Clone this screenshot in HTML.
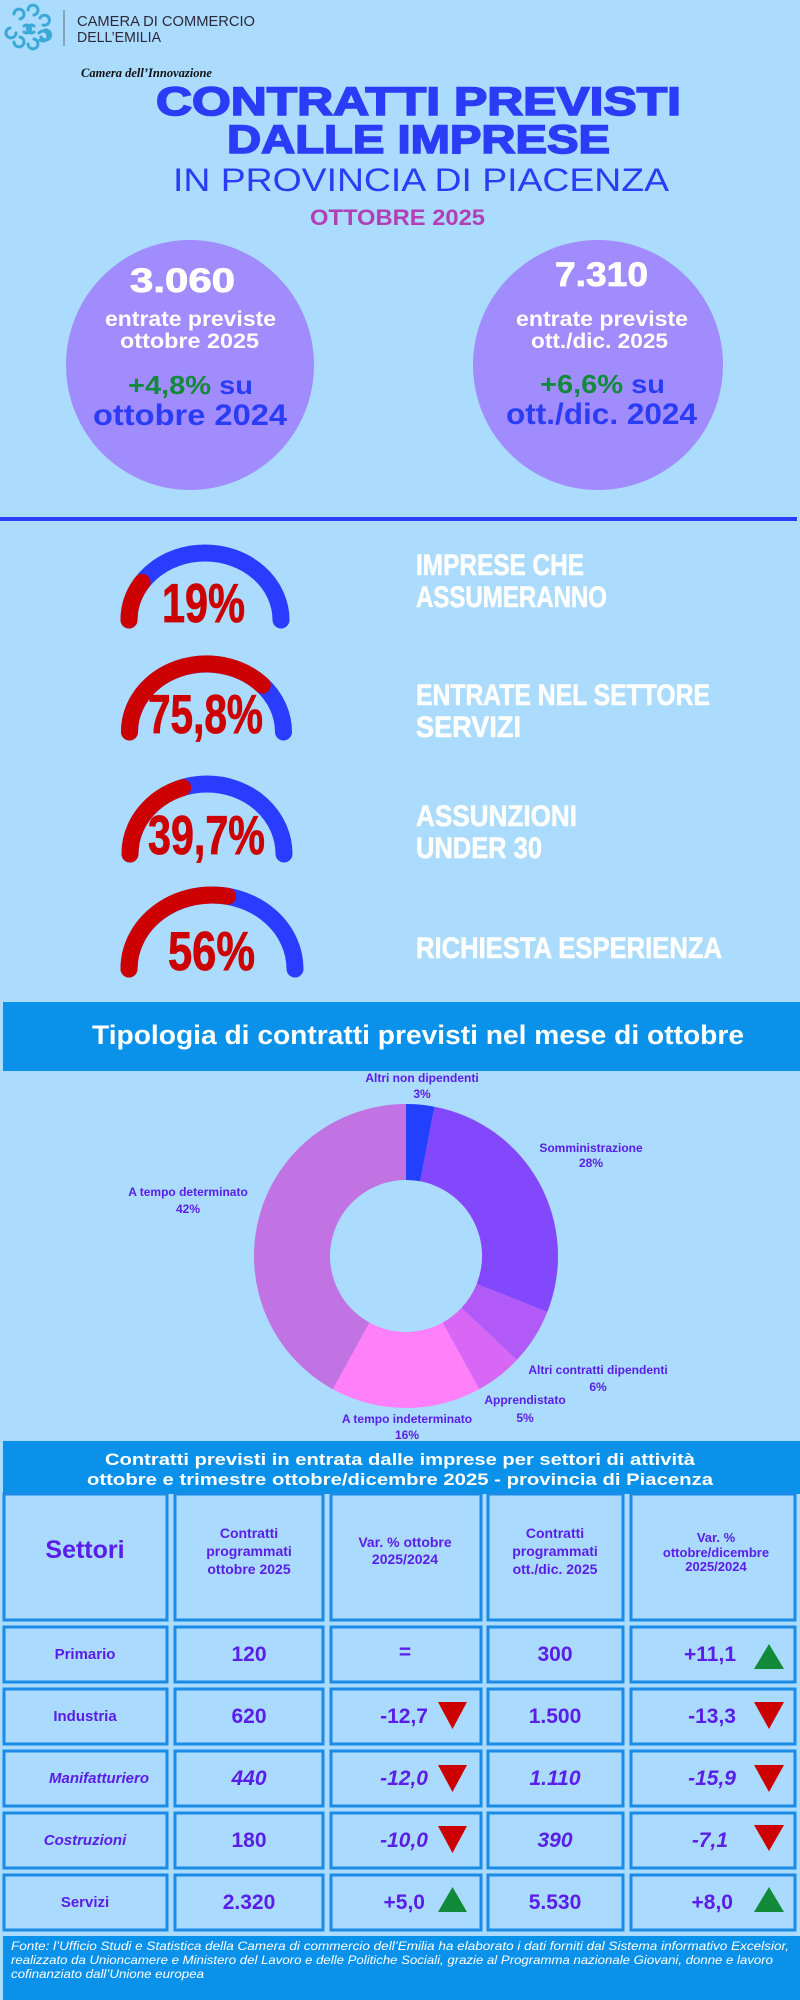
<!DOCTYPE html>
<html><head><meta charset="utf-8"><style>
html,body{margin:0;padding:0;background:#abdbfd;}
svg{display:block;}
</style></head><body>
<svg width="800" height="2000" viewBox="0 0 800 2000" xmlns="http://www.w3.org/2000/svg" font-family="'Liberation Sans', sans-serif">
<rect width="800" height="2000" fill="#abdbfd"/>
<!-- logo -->
<g fill="none" stroke="#3aa9d8" stroke-width="3" stroke-linecap="round">
<path d="M14,14 a5,5 0 1 1 6,5"/><path d="M28,10 a5,5 0 1 1 6,5"/><path d="M40,18 a5,5 0 1 1 3,7"/>
<path d="M10,28 a5,5 0 1 0 6,5"/><path d="M45,30 a5,5 0 1 1 -4,7"/>
<path d="M14,42 a5,5 0 1 0 6,-5"/><path d="M28,44 a5,5 0 1 0 6,-5"/><path d="M40,40 a5,5 0 1 0 -1,-7"/>
<path d="M24,26 a4,4 0 1 1 0,6"/><path d="M34,26 a4,4 0 1 0 0,6"/>
</g>
<line x1="64" y1="10" x2="64" y2="46" stroke="#7a8fa0" stroke-width="1.5"/>
<text x="77" y="26" font-size="15" fill="#2a2a3a" textLength="178" lengthAdjust="spacingAndGlyphs">CAMERA DI COMMERCIO</text>
<text x="77" y="42" font-size="15" fill="#2a2a3a" textLength="84" lengthAdjust="spacingAndGlyphs">DELL’EMILIA</text>
<text x="81" y="77" font-size="13" font-style="italic" font-weight="bold" font-family="'Liberation Serif', serif" fill="#111" textLength="131" lengthAdjust="spacingAndGlyphs">Camera dell’Innovazione</text>
<!-- titles -->
<g stroke="#2a3cf5" stroke-width="1.6">
<text x="156" y="115" font-size="40" font-weight="bold" fill="#2a3cf5" textLength="525" lengthAdjust="spacingAndGlyphs">CONTRATTI PREVISTI</text>
<text x="227" y="153" font-size="40" font-weight="bold" fill="#2a3cf5" textLength="383" lengthAdjust="spacingAndGlyphs">DALLE IMPRESE</text>
</g>
<text x="173" y="191" font-size="32" fill="#2a3cf5" textLength="496" lengthAdjust="spacingAndGlyphs">IN PROVINCIA DI PIACENZA</text>
<text x="310" y="225" font-size="22" font-weight="bold" fill="#b23fb8" textLength="175" lengthAdjust="spacingAndGlyphs">OTTOBRE  2025</text>
<!-- circles -->
<ellipse cx="190" cy="365" rx="124" ry="125" fill="#a08cfc"/>
<ellipse cx="598" cy="365" rx="125" ry="125" fill="#a08cfc"/>
<g font-weight="bold" fill="#fff">
<text x="130" y="292" font-size="34" stroke="#fff" stroke-width="0.8" textLength="105" lengthAdjust="spacingAndGlyphs">3.060</text>
<text x="105" y="326" font-size="21" textLength="171" lengthAdjust="spacingAndGlyphs">entrate previste</text>
<text x="120" y="348" font-size="21" textLength="139" lengthAdjust="spacingAndGlyphs">ottobre 2025</text>
<text x="555" y="286" font-size="34" stroke="#fff" stroke-width="0.8" textLength="93" lengthAdjust="spacingAndGlyphs">7.310</text>
<text x="516" y="326" font-size="21" textLength="172" lengthAdjust="spacingAndGlyphs">entrate previste</text>
<text x="531" y="348" font-size="21" textLength="137" lengthAdjust="spacingAndGlyphs">ott./dic. 2025</text>
</g>
<g font-weight="bold">
<text x="128" y="394" font-size="26" fill="#118a3a" textLength="125" lengthAdjust="spacingAndGlyphs">+4,8%<tspan fill="#2a3cf5"> su</tspan></text>
<text x="93" y="425" font-size="30" fill="#2a3cf5" textLength="194" lengthAdjust="spacingAndGlyphs">ottobre 2024</text>
<text x="540" y="393" font-size="26" fill="#118a3a" textLength="125" lengthAdjust="spacingAndGlyphs">+6,6%<tspan fill="#2a3cf5"> su</tspan></text>
<text x="506" y="424" font-size="30" fill="#2a3cf5" textLength="191" lengthAdjust="spacingAndGlyphs">ott./dic. 2024</text>
</g>
<rect x="0" y="517" width="797" height="4" fill="#2a3cf5"/>
<!-- gauges -->
<g fill="none" stroke-width="17" stroke-linecap="round">
<path d="M129,620 A76,67 0 0 1 281,620" stroke="#2a3cff"/>
<path d="M129,620 A76,67 0 0 1 142.1,582.3" stroke="#cc0000"/>
<path d="M129.5,732 A77,68 0 0 1 283.5,732" stroke="#2a3cff"/>
<path d="M129.5,732 A77,68 0 0 1 262.3,685.1" stroke="#cc0000"/>
<path d="M130,854 A77,70 0 0 1 284,854" stroke="#2a3cff"/>
<path d="M130,854 A77,70 0 0 1 182.6,787.6" stroke="#cc0000"/>
<path d="M129,969 A83,74 0 0 1 295,969" stroke="#2a3cff"/>
<path d="M129,969 A83,74 0 0 1 227.6,896.3" stroke="#cc0000"/>
</g>
<g font-weight="bold" fill="#cc0000" font-size="55" stroke="#cc0000" stroke-width="0.8">
<text x="162" y="622" textLength="83" lengthAdjust="spacingAndGlyphs">19%</text>
<text x="148" y="733" textLength="115" lengthAdjust="spacingAndGlyphs">75,8%</text>
<text x="148" y="854" textLength="117" lengthAdjust="spacingAndGlyphs">39,7%</text>
<text x="168" y="970" textLength="87" lengthAdjust="spacingAndGlyphs">56%</text>
</g>
<g font-weight="bold" fill="#fff" font-size="30" stroke="#fff" stroke-width="0.6">
<text x="416" y="575" textLength="168" lengthAdjust="spacingAndGlyphs">IMPRESE CHE</text>
<text x="416" y="607" textLength="191" lengthAdjust="spacingAndGlyphs">ASSUMERANNO</text>
<text x="416" y="705" textLength="294" lengthAdjust="spacingAndGlyphs">ENTRATE NEL SETTORE</text>
<text x="416" y="737" textLength="105" lengthAdjust="spacingAndGlyphs">SERVIZI</text>
<text x="416" y="826" textLength="161" lengthAdjust="spacingAndGlyphs">ASSUNZIONI</text>
<text x="416" y="858" textLength="126" lengthAdjust="spacingAndGlyphs">UNDER 30</text>
<text x="416" y="958" textLength="306" lengthAdjust="spacingAndGlyphs">RICHIESTA ESPERIENZA</text>
</g>
<!-- donut banner -->
<rect x="3" y="1002" width="797" height="69" fill="#0a92ea"/>
<text x="92" y="1044" font-size="27" font-weight="bold" fill="#fff" textLength="652" lengthAdjust="spacingAndGlyphs">Tipologia di contratti previsti nel mese di ottobre</text>
<!-- donut -->
<path d="M406,1104 A152,152 0 0 1 434.5,1106.7 L420.2,1181.3 A76,76 0 0 0 406,1180 Z" fill="#2440ff"/>
<path d="M434.5,1106.7 A152,152 0 0 1 547.3,1312 L476.7,1284 A76,76 0 0 0 420.2,1181.3 Z" fill="#8448fc"/>
<path d="M547.3,1312 A152,152 0 0 1 516.8,1360 L461.4,1308 A76,76 0 0 0 476.7,1284 Z" fill="#b25af8"/>
<path d="M516.8,1360 A152,152 0 0 1 479.2,1389.2 L442.6,1322.6 A76,76 0 0 0 461.4,1308 Z" fill="#d967f6"/>
<path d="M479.2,1389.2 A152,152 0 0 1 332.8,1389.2 L369.4,1322.6 A76,76 0 0 0 442.6,1322.6 Z" fill="#ff80f8"/>
<path d="M332.8,1389.2 A152,152 0 0 1 406,1104 L406,1180 A76,76 0 0 0 369.4,1322.6 Z" fill="#c172e3"/>
<g font-weight="bold" fill="#5a1ee8" font-size="12" text-anchor="middle">
<text x="422" y="1082">Altri non dipendenti</text><text x="422" y="1098">3%</text>
<text x="591" y="1152">Somministrazione</text><text x="591" y="1167">28%</text>
<text x="188" y="1196">A tempo determinato</text><text x="188" y="1213">42%</text>
<text x="598" y="1374">Altri contratti dipendenti</text><text x="598" y="1391">6%</text>
<text x="525" y="1404">Apprendistato</text><text x="525" y="1422">5%</text>
<text x="407" y="1423">A tempo indeterminato</text><text x="407" y="1439">16%</text>
</g>
<!-- table banner -->
<rect x="3" y="1441" width="797" height="53" fill="#0a92ea"/>
<text x="105" y="1465" font-size="17" font-weight="bold" fill="#fff" textLength="590" lengthAdjust="spacingAndGlyphs">Contratti previsti in entrata dalle imprese per settori di attività</text>
<text x="87" y="1485" font-size="17" font-weight="bold" fill="#fff" textLength="626" lengthAdjust="spacingAndGlyphs">ottobre e trimestre ottobre/dicembre 2025  -  provincia di Piacenza</text>
<g fill="#aadafd" stroke="#1a8be6" stroke-width="3">
<rect x="4" y="1494" width="163" height="126"/><rect x="175" y="1494" width="148" height="126"/><rect x="331" y="1494" width="150" height="126"/><rect x="488" y="1494" width="135" height="126"/><rect x="631" y="1494" width="164" height="126"/>
<rect x="4" y="1627" width="163" height="55"/><rect x="175" y="1627" width="148" height="55"/><rect x="331" y="1627" width="150" height="55"/><rect x="488" y="1627" width="135" height="55"/><rect x="631" y="1627" width="164" height="55"/>
<rect x="4" y="1689" width="163" height="55"/><rect x="175" y="1689" width="148" height="55"/><rect x="331" y="1689" width="150" height="55"/><rect x="488" y="1689" width="135" height="55"/><rect x="631" y="1689" width="164" height="55"/>
<rect x="4" y="1751" width="163" height="55"/><rect x="175" y="1751" width="148" height="55"/><rect x="331" y="1751" width="150" height="55"/><rect x="488" y="1751" width="135" height="55"/><rect x="631" y="1751" width="164" height="55"/>
<rect x="4" y="1813" width="163" height="55"/><rect x="175" y="1813" width="148" height="55"/><rect x="331" y="1813" width="150" height="55"/><rect x="488" y="1813" width="135" height="55"/><rect x="631" y="1813" width="164" height="55"/>
<rect x="4" y="1875" width="163" height="55"/><rect x="175" y="1875" width="148" height="55"/><rect x="331" y="1875" width="150" height="55"/><rect x="488" y="1875" width="135" height="55"/><rect x="631" y="1875" width="164" height="55"/>
</g>
<g fill="#5a1ee8" font-weight="bold" text-anchor="middle">
<text x="85" y="1558" font-size="25">Settori</text>
<g font-size="14">
<text x="249" y="1538">Contratti</text><text x="249" y="1556">programmati</text><text x="249" y="1574">ottobre 2025</text>
<text x="405" y="1547">Var. % ottobre</text><text x="405" y="1564">2025/2024</text>
<text x="555" y="1538">Contratti</text><text x="555" y="1556">programmati</text><text x="555" y="1574">ott./dic. 2025</text>
<text x="716" y="1542" font-size="13">Var.  %</text><text x="716" y="1557" font-size="13">ottobre/dicembre</text><text x="716" y="1571" font-size="13">2025/2024</text>
</g>
<g font-size="15">
<text x="85" y="1659">Primario</text><text x="85" y="1721">Industria</text>
<text x="99" y="1783" font-style="italic">Manifatturiero</text><text x="85" y="1845" font-style="italic">Costruzioni</text>
<text x="85" y="1907">Servizi</text>
</g>
<g font-size="21">
<text x="249" y="1661">120</text><text x="405" y="1659">=</text><text x="555" y="1661">300</text>
<text x="249" y="1723">620</text><text x="555" y="1723">1.500</text>
<text x="249" y="1785" font-style="italic">440</text><text x="555" y="1785" font-style="italic">1.110</text>
<text x="249" y="1847">180</text><text x="555" y="1847" font-style="italic">390</text>
<text x="249" y="1909">2.320</text><text x="555" y="1909">5.530</text>
</g>
<g font-size="21" text-anchor="end">
<text x="736" y="1661">+11,1</text>
<text x="428" y="1723">-12,7</text><text x="736" y="1723">-13,3</text>
<text x="428" y="1785" font-style="italic">-12,0</text><text x="736" y="1785" font-style="italic">-15,9</text>
<text x="428" y="1847" font-style="italic">-10,0</text><text x="728" y="1847" font-style="italic">-7,1</text>
<text x="425" y="1909">+5,0</text><text x="733" y="1909">+8,0</text>
</g>
</g>
<g>
<polygon points="754,1669 784,1669 769,1644" fill="#118a3a"/>
<polygon points="438,1702 467,1702 452.5,1729" fill="#cc0000"/>
<polygon points="754,1702 784,1702 769,1729" fill="#cc0000"/>
<polygon points="438,1765 467,1765 452.5,1792" fill="#cc0000"/>
<polygon points="754,1765 784,1765 769,1792" fill="#cc0000"/>
<polygon points="438,1826 467,1826 452.5,1853" fill="#cc0000"/>
<polygon points="754,1825 784,1825 769,1851" fill="#cc0000"/>
<polygon points="438,1912 467,1912 452.5,1887" fill="#118a3a"/>
<polygon points="754,1912 784,1912 769,1887" fill="#118a3a"/>
</g>
<!-- footer -->
<rect x="3" y="1936" width="797" height="64" fill="#0a92ea"/>
<g fill="#fff" font-size="12" font-style="italic">
<text x="11" y="1950" textLength="778" lengthAdjust="spacingAndGlyphs">Fonte: l’Ufficio Studi e Statistica della Camera di commercio dell’Emilia  ha elaborato i dati forniti dal Sistema informativo Excelsior,</text>
<text x="11" y="1964" textLength="762" lengthAdjust="spacingAndGlyphs">realizzato da Unioncamere e Ministero del Lavoro e delle Politiche Sociali, grazie al Programma nazionale Giovani, donne e lavoro</text>
<text x="11" y="1978" textLength="193" lengthAdjust="spacingAndGlyphs">cofinanziato dall’Unione europea</text>
</g>
</svg>
</body></html>
